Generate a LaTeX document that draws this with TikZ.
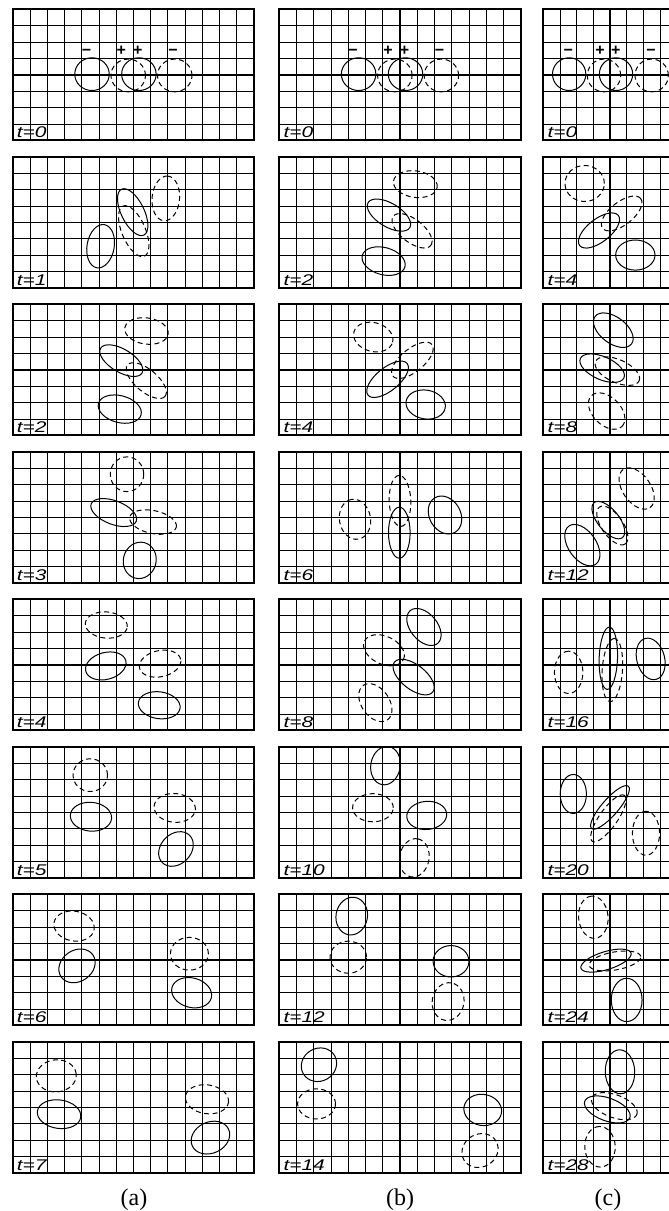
\documentclass[tikz,border=0pt]{standalone}
\usepackage{fontspec}
\usepackage{graphicx}
\setmainfont{Liberation Serif}
\newfontfamily\lblfont{Liberation Sans}
\tikzset{
  gridline/.style={line width=0.8pt, black},
  axisline/.style={line width=1.6pt, black},
  frameline/.style={line width=1.9pt, black},
  solidblob/.style={line width=1pt},
  dashedblob/.style={line width=1pt, dash pattern=on 5pt off 3.5pt},
  tlabel/.style={anchor=south west, inner sep=0pt, xshift=4pt, yshift=2.3pt,
    font=\lblfont\itshape\fontsize{15.5}{16}\selectfont},
  signlabel/.style={anchor=base, inner sep=0pt, font=\lblfont\bfseries\fontsize{16}{16}\selectfont},
  captionlabel/.style={anchor=base, inner sep=0pt, font=\fontsize{24}{24}\selectfont}
}
\newcommand\solblob[5]{\draw[solidblob, rotate around={#5:(#1,#2)}] (#1,#2) ellipse [x radius=#3, y radius=#4];}
\newcommand\dashblob[5]{\draw[dashedblob, rotate around={#5:(#1,#2)}] (#1,#2) ellipse [x radius=#3, y radius=#4];}
% #1 cx, #2 cy (px from top), #3 cell width, #4 half columns, #5 label, #6 node name, #7 blobs
\newcommand\panel[7]{%
\begin{scope}[shift={(#1,-#2)}, x=#3pt, y=16.375pt]
\foreach \i in {-#4,...,#4} {\draw[gridline] (\i,-4) -- (\i,4);}
\foreach \j in {-4,...,4} {\draw[gridline] (-#4,\j) -- (#4,\j);}
\draw[axisline] (0,-4) -- (0,4) (-#4,0) -- (#4,0);
\draw[frameline] (-#4,-4) rectangle (#4,4);
\node[tlabel] (#6) at (-#4,-4) {\scalebox{1.35}[1]{t=#5}};
#7
\end{scope}}
\begin{document}
\begin{tikzpicture}[x=1pt,y=1pt]
\useasboundingbox (0,0) rectangle (669,-1211);
\fill[white] (0,0) rectangle (669,-1211);
\clip (0,0) rectangle (669,-1211);

% ---------------- column (a) ----------------
\panel{133.38}{74.8}{17.24}{7}{0}{la0}{%
 \solblob{-2.4}{0.04}{1}{1}{0}\solblob{0.32}{0.04}{1}{1}{0}
 \dashblob{-0.3}{-0.04}{1}{1}{0}\dashblob{2.4}{-0.04}{1}{1}{0}
 \node[signlabel] (sa1) at (-2.72,1.16) {−};
 \node[signlabel] (sa2) at (-0.7,1.16) {+};
 \node[signlabel] (sa3) at (0.26,1.16) {+};
 \node[signlabel] (sa4) at (2.3,1.16) {−};}
\panel{133.38}{222.3}{17.24}{7}{1}{la1}{%
 \solblob{-1.9}{-1.46}{1.27}{0.83}{80}
 \solblob{-0.04}{0.62}{1.48}{0.7}{-64}
 \dashblob{0.02}{-0.54}{1.58}{0.72}{-67}
 \dashblob{1.88}{1.46}{1.3}{0.84}{85}}
\panel{133.38}{369.8}{17.24}{7}{2}{la2}{%
 \dashblob{0.76}{2.37}{1.27}{0.8}{-8}
 \solblob{-0.7}{0.56}{1.4}{0.7}{-31}
 \dashblob{0.75}{-0.66}{1.42}{0.68}{-40}
 \solblob{-0.79}{-2.4}{1.28}{0.82}{-15}}
\panel{133.38}{517.3}{17.24}{7}{3}{la3}{%
 \dashblob{-0.37}{2.63}{0.97}{1.06}{0}
 \solblob{-1.14}{0.29}{1.4}{0.72}{-21}
 \dashblob{1.14}{-0.29}{1.38}{0.7}{-12}
 \solblob{0.37}{-2.63}{0.95}{1.12}{-15}}
\panel{133.38}{664.8}{17.24}{7}{4}{la4}{%
 \dashblob{-1.57}{2.43}{1.22}{0.8}{-5}
 \solblob{-1.6}{-0.07}{1.2}{0.82}{15}
 \dashblob{1.55}{0.07}{1.22}{0.8}{12}
 \solblob{1.5}{-2.47}{1.22}{0.82}{-8}}
\panel{133.38}{812.3}{17.24}{7}{5}{la5}{%
 \dashblob{-2.5}{2.27}{1.0}{1.0}{0}
 \solblob{-2.46}{-0.27}{1.2}{0.88}{-5}
 \dashblob{2.4}{0.27}{1.2}{0.88}{-5}
 \solblob{2.47}{-2.24}{1.12}{0.92}{45}}
\panel{133.38}{959.8}{17.24}{7}{6}{la6}{%
 \dashblob{-3.44}{2.06}{1.18}{0.91}{-10}
 \solblob{-3.27}{-0.37}{1.12}{0.95}{35}
 \dashblob{3.25}{0.37}{1.1}{1.0}{0}
 \solblob{3.38}{-2.01}{1.18}{0.9}{-15}}
\panel{133.38}{1107.3}{17.24}{7}{7}{la7}{%
 \dashblob{-4.47}{1.92}{1.16}{0.98}{5}
 \solblob{-4.31}{-0.42}{1.27}{0.87}{-8}
 \dashblob{4.27}{0.49}{1.26}{0.88}{-8}
 \solblob{4.47}{-1.85}{1.16}{0.95}{25}}

% ---------------- column (b) ----------------
\panel{400}{74.8}{17.24}{7}{0}{lb0}{%
 \solblob{-2.4}{0.04}{1}{1}{0}\solblob{0.32}{0.04}{1}{1}{0}
 \dashblob{-0.3}{-0.04}{1}{1}{0}\dashblob{2.4}{-0.04}{1}{1}{0}
 \node[signlabel] (sb1) at (-2.72,1.16) {−};
 \node[signlabel] (sb2) at (-0.7,1.16) {+};
 \node[signlabel] (sb3) at (0.26,1.16) {+};
 \node[signlabel] (sb4) at (2.3,1.16) {−};}
\panel{400}{222.3}{17.24}{7}{2}{lb1}{%
 \dashblob{0.89}{2.33}{1.28}{0.81}{-8}
 \solblob{-0.64}{0.44}{1.41}{0.72}{-31}
 \dashblob{0.7}{-0.52}{1.38}{0.7}{-38}
 \solblob{-0.95}{-2.37}{1.28}{0.83}{-15}}
\panel{400}{369.8}{17.24}{7}{4}{lb2}{%
 \dashblob{-1.55}{2.0}{1.16}{0.88}{-15}
 \solblob{-0.72}{-0.58}{1.46}{0.7}{39}
 \dashblob{0.72}{0.58}{1.46}{0.7}{39}
 \solblob{1.49}{-2.12}{1.15}{0.88}{-10}}
\panel{400}{517.3}{17.24}{7}{6}{lb3}{%
 \dashblob{-2.61}{-0.12}{1.17}{0.95}{100}
 \dashblob{0}{1.0}{1.48}{0.66}{92}
 \solblob{-0.04}{-0.94}{1.48}{0.66}{90}
 \solblob{2.61}{0.14}{1.16}{0.95}{120}}
\panel{400}{664.8}{17.24}{7}{8}{lb4}{%
 \solblob{1.39}{2.31}{1.24}{0.82}{-50}
 \dashblob{-0.93}{0.89}{1.25}{0.85}{-25}
 \solblob{0.79}{-0.75}{1.41}{0.75}{-38}
 \dashblob{-1.43}{-2.31}{1.22}{0.85}{-55}}
\panel{400}{812.3}{17.24}{7}{10}{lb5}{%
 \solblob{-0.84}{2.85}{1.12}{0.9}{80}
 \dashblob{-1.57}{0.28}{1.18}{0.86}{0}
 \solblob{1.55}{-0.19}{1.16}{0.86}{5}
 \dashblob{0.83}{-2.78}{1.12}{0.9}{80}}
\panel{400}{959.8}{17.24}{7}{12}{lb6}{%
 \solblob{-2.8}{2.67}{1.1}{0.96}{80}
 \dashblob{-3.0}{0.16}{1.06}{0.98}{0}
 \solblob{2.96}{-0.09}{1.04}{0.96}{0}
 \dashblob{2.79}{-2.55}{1.1}{0.97}{80}}
\panel{400}{1107.3}{17.24}{7}{14}{lb7}{%
 \solblob{-4.7}{2.6}{1.05}{1.0}{30}
 \dashblob{-4.84}{0.21}{1.1}{0.92}{0}
 \solblob{4.8}{-0.16}{1.1}{0.95}{-10}
 \dashblob{4.64}{-2.64}{1.08}{1.0}{30}}

% ---------------- column (c) ----------------
\panel{610}{74.8}{16.67}{4}{0}{lc0}{%
 \solblob{-2.45}{0.04}{1}{1}{0}\solblob{0.36}{0.04}{1}{1}{0}
 \dashblob{-0.36}{-0.04}{1}{1}{0}\dashblob{2.5}{-0.04}{1}{1}{0}
 \node[signlabel] (sc1) at (-2.5,1.16) {−};
 \node[signlabel] (sc2) at (-0.6,1.16) {+};
 \node[signlabel] (sc3) at (0.34,1.16) {+};
 \node[signlabel] (sc4) at (2.46,1.16) {−};}
\panel{610}{222.3}{16.67}{4}{4}{lc1}{%
 \dashblob{-1.52}{2.37}{1.18}{1.1}{0}
 \solblob{-0.66}{-0.5}{1.47}{0.7}{38}
 \dashblob{0.7}{0.54}{1.45}{0.7}{38}
 \solblob{1.52}{-2.0}{1.18}{0.92}{0}}
\panel{610}{369.8}{16.67}{4}{8}{lc2}{%
 \solblob{0.2}{2.42}{1.37}{0.8}{-37}
 \solblob{-0.47}{0.1}{1.43}{0.7}{-24}
 \dashblob{0.44}{-0.08}{1.43}{0.7}{-24}
 \dashblob{-0.2}{-2.52}{1.3}{0.85}{-45}}
\panel{610}{517.3}{16.67}{4}{12}{lc3}{%
 \dashblob{1.6}{1.76}{1.4}{0.85}{-55}
 \solblob{-0.1}{-0.17}{1.35}{0.65}{-51}
 \dashblob{0.14}{-0.5}{1.35}{0.65}{-55}
 \solblob{-1.66}{-1.7}{1.4}{0.85}{-55}}
\panel{610}{664.8}{16.67}{4}{16}{lc4}{%
 \dashblob{-2.48}{-0.46}{1.27}{0.87}{90}
 \solblob{-0.1}{0.4}{1.87}{0.56}{88}
 \dashblob{0.14}{-0.32}{1.9}{0.62}{86}
 \solblob{2.44}{0.36}{1.27}{0.85}{105}}
\panel{610}{812.3}{16.67}{4}{20}{lc5}{%
 \solblob{-2.2}{1.12}{1.17}{0.8}{90}
 \solblob{0.0}{0.3}{1.68}{0.5}{49}
 \dashblob{-0.1}{-0.37}{1.68}{0.55}{55}
 \dashblob{2.16}{-1.28}{1.32}{0.83}{90}}
\panel{610}{959.8}{16.67}{4}{24}{lc6}{%
 \dashblob{-1.0}{2.6}{1.27}{0.9}{95}
 \solblob{-0.24}{-0.05}{1.57}{0.55}{17}
 \dashblob{0.3}{-0.07}{1.57}{0.55}{10}
 \solblob{1.0}{-2.45}{1.3}{0.94}{90}}
\panel{610}{1107.3}{16.67}{4}{28}{lc7}{%
 \solblob{0.6}{2.17}{1.32}{0.9}{92}
 \solblob{-0.16}{-0.13}{1.44}{0.7}{-20}
 \dashblob{0.26}{0.07}{1.44}{0.7}{-20}
 \dashblob{-0.6}{-2.41}{1.22}{0.93}{92}}

% ---------------- captions ----------------
\node[captionlabel] (capa) at (134,-1205) {(a)};
\node[captionlabel] (capb) at (400,-1205) {(b)};
\node[captionlabel] (capc) at (608,-1205) {(c)};
\end{tikzpicture}
\end{document}
